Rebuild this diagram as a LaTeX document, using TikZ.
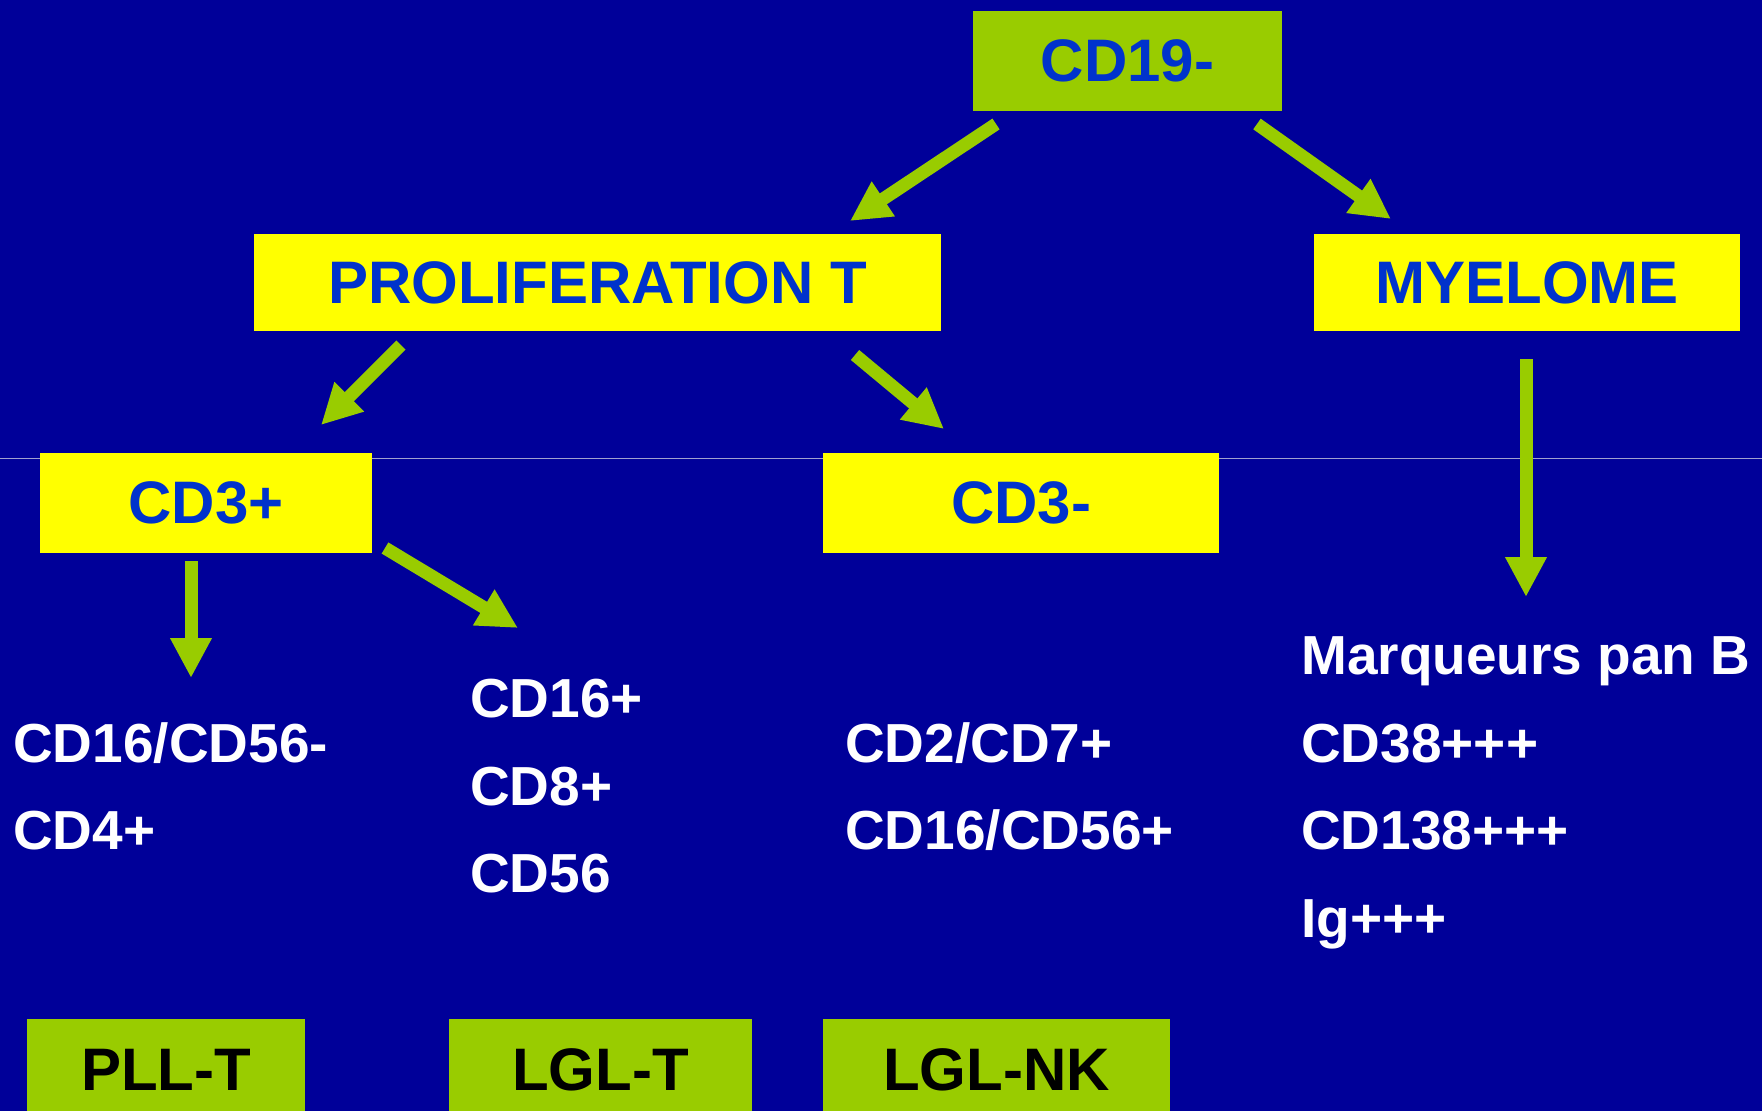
\documentclass[tikz,border=0pt]{standalone}
\usepackage{fontspec}
\setmainfont{Liberation Sans}
\usetikzlibrary{arrows.meta}
\definecolor{bg}{HTML}{000099}
\definecolor{lime}{HTML}{99CC00}
\definecolor{yel}{HTML}{FFFF00}
\definecolor{txtblue}{HTML}{0033CC}
\definecolor{rule}{HTML}{A0A0D0}
\begin{document}
\begin{tikzpicture}[x=1pt,y=-1pt,
  boxbase/.style={inner sep=0pt, font=\fontsize{60}{72}\selectfont\bfseries},
  gbox/.style={boxbase, fill=lime, text=txtblue},
  dbox/.style={boxbase, fill=lime, text=black},
  ybox/.style={boxbase, fill=yel, text=txtblue},
  lbl/.style={text=white, anchor=base west, inner sep=0pt, font=\fontsize{55}{66}\selectfont\bfseries},
  arr/.style={draw=lime, line width=13pt, -{Triangle[width=39pt,length=40pt]}}
]
\clip (0,0) rectangle (1762,1111);
\fill[bg] (0,0) rectangle (1762,1111);
\draw[rule, line width=1.5pt] (0,458.5) -- (1762,458.5);

% boxes
\node[gbox, minimum width=309pt, minimum height=100pt] (cd19) at (1127.5,61) {CD19-};
\node[ybox, minimum width=687pt, minimum height=97pt] (prolif) at (597.5,282.5) {PROLIFERATION T};
\node[ybox, minimum width=426pt, minimum height=97pt] (myel) at (1527,282.5) {MYELOME};
\node[ybox, minimum width=332pt, minimum height=100pt] (cd3p) at (206,503) {CD3+};
\node[ybox, minimum width=396pt, minimum height=100pt] (cd3m) at (1021,503) {CD3-};
\node[dbox, minimum width=278pt, minimum height=102pt] (pllt) at (166,1070) {PLL-T};
\node[dbox, minimum width=303pt, minimum height=102pt] (lglt) at (600.5,1070) {LGL-T};
\node[dbox, minimum width=347pt, minimum height=102pt] (lglnk) at (996.5,1070) {LGL-NK};

% white labels
\node[lbl] (a1) at (13,762) {CD16/CD56-};
\node[lbl] (a2) at (13,849) {CD4+};
\node[lbl] (b1) at (470,717) {CD16+};
\node[lbl] (b2) at (470,805) {CD8+};
\node[lbl] (b3) at (470,892) {CD56};
\node[lbl] (c1) at (845,762) {CD2/CD7+};
\node[lbl] (c2) at (845,849) {CD16/CD56+};
\node[lbl] (d1) at (1301,674) {Marqueurs pan B};
\node[lbl] (d2) at (1301,762) {CD38+++};
\node[lbl] (d3) at (1301,849) {CD138+++};
\node[lbl] (d4) at (1301,937) {Ig+++};

% arrow end points
\coordinate (s1) at (996,124);  \coordinate (e1) at (850,221);
\coordinate (s2) at (1257,124); \coordinate (e2) at (1391,219);
\coordinate (s3) at (401,345);  \coordinate (e3) at (321,425);
\coordinate (s4) at (855,355);  \coordinate (e4) at (944,429);
\coordinate (s5) at (1526,359); \coordinate (e5) at (1526,597);
\coordinate (s6) at (191,561);  \coordinate (e6) at (191,678);
\coordinate (s7) at (385,548);  \coordinate (e7) at (518,628);

\draw[arr] (s1) -- (e1);
\draw[arr] (s2) -- (e2);
\draw[arr] (s3) -- (e3);
\draw[arr] (s4) -- (e4);
\draw[arr] (s5) -- (e5);
\draw[arr] (s6) -- (e6);
\draw[arr] (s7) -- (e7);
\end{tikzpicture}
\end{document}
